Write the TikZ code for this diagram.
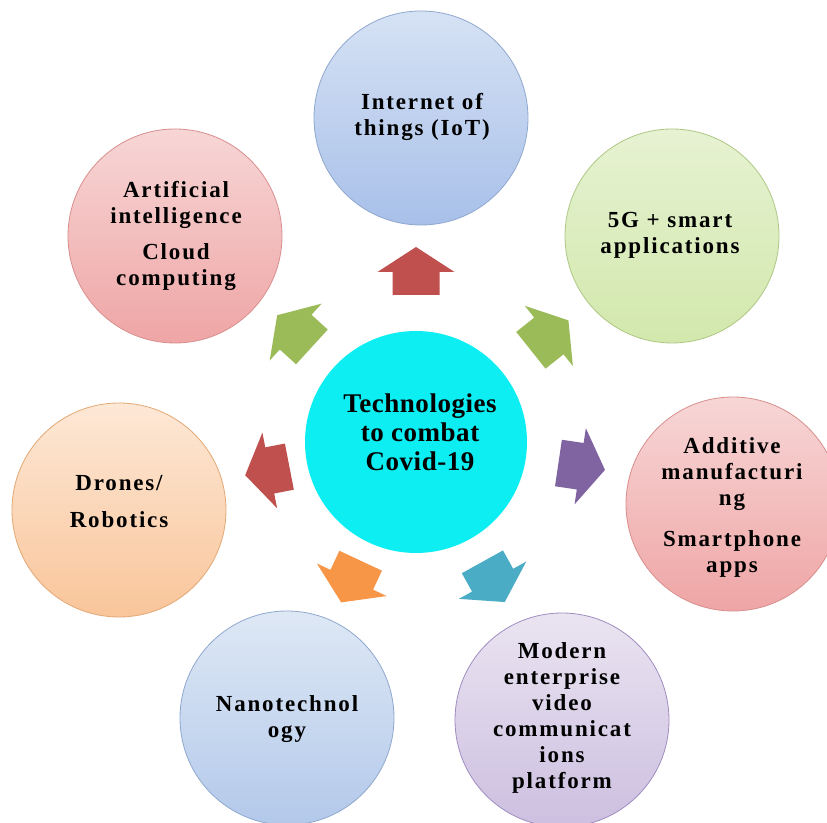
\documentclass[tikz,border=0pt]{standalone}
\usepackage{fontspec}
\setmainfont{Liberation Serif}
\newfontfamily\outerfam[LetterSpace=8,Ligatures=CommonOff]{Liberation Serif}
\newfontfamily\centerfam[LetterSpace=2,Ligatures=CommonOff]{Liberation Serif}
\definecolor{arred}{HTML}{C0504D}
\definecolor{argreen}{HTML}{9BBB59}
\definecolor{arpurple}{HTML}{8064A2}
\definecolor{arteal}{HTML}{4BACC6}
\definecolor{arorange}{HTML}{F79646}
\definecolor{hubcyan}{HTML}{0CEEF2}
\definecolor{blueT}{HTML}{D6E2F4}\definecolor{blueB}{HTML}{A8C0E9}\definecolor{blueD}{HTML}{8FA8CF}
\definecolor{greenT}{HTML}{E6F2D2}\definecolor{greenB}{HTML}{D2E8AC}\definecolor{greenD}{HTML}{AFC784}
\definecolor{pinkT}{HTML}{F7D6D6}\definecolor{pinkB}{HTML}{EFA5A5}\definecolor{pinkD}{HTML}{D98E8E}
\definecolor{lavT}{HTML}{EAE4F1}\definecolor{lavB}{HTML}{CCBFE0}\definecolor{lavD}{HTML}{A08DC0}
\definecolor{nanoT}{HTML}{DEE8F5}\definecolor{nanoB}{HTML}{B3C9EA}\definecolor{nanoD}{HTML}{8FA8CF}
\definecolor{peachT}{HTML}{FDE8D6}\definecolor{peachB}{HTML}{F9C59A}\definecolor{peachD}{HTML}{E3A874}
\tikzset{
  bub/.style n args={3}{circle, minimum size=214pt, inner sep=0pt, top color=#1, bottom color=#2, draw=#3, line width=0.8pt},
  hub/.style={circle, minimum size=222pt, inner sep=0pt, fill=hubcyan},
  outtxt/.style={align=center, inner sep=0pt, font=\outerfam\bfseries\fontsize{23}{26}\selectfont},
  hubtxt/.style={align=center, inner sep=0pt, font=\centerfam\bfseries\fontsize{27}{29}\selectfont},
}
\newcommand{\blockarr}[4]{% angle, tip distance, length, colour
  \begin{scope}[shift={(hubc.center)}, rotate=#1]
    \fill[#4] (#2-#3,-23.5) -- (#2-25,-23.5) -- (#2-25,-38.5) -- (#2,0) -- (#2-25,38.5) -- (#2-25,23.5) -- (#2-#3,23.5) -- cycle;
  \end{scope}}
\begin{document}
\begin{tikzpicture}[x=1pt,y=1pt]
\useasboundingbox (0,0) rectangle (827,822);
\clip (0,0) rectangle (827,822);
\fill[white] (0,0) rectangle (827,822);

\node[hub] (hubc) at (416,380) {};
\node[hubtxt] (thub) at (420,390) {Technologies\\to combat\\Covid-19};

\node[bub={blueT}{blueB}{blueD}] (iot) at (421,704) {};
\node[bub={greenT}{greenB}{greenD}] (fiveg) at (672,586) {};
\node[bub={pinkT}{pinkB}{pinkD}] (addm) at (733,318) {};
\node[bub={lavT}{lavB}{lavD}] (modv) at (562,102) {};
\node[bub={nanoT}{nanoB}{nanoD}] (nano) at (287,104) {};
\node[bub={peachT}{peachB}{peachD}] (drone) at (119,312) {};
\node[bub={pinkT}{pinkB}{pinkD}] (aicc) at (175,586) {};

\node[outtxt] (tiot) at (422,705) {Internet of\\things (IoT)};
\node[outtxt] (tfiveg) at (670,587) {5G + smart\\applications};
\node[outtxt] (taddm) at (732,315) {Additive\\manufacturi\\ng\\[15pt]Smartphone\\apps};
\node[outtxt] (tmodv) at (562,104) {Modern\\enterprise\\video\\communicat\\ions\\platform};
\node[outtxt] (tnano) at (287,103) {Nanotechnol\\ogy};
\node[outtxt] (tdrone) at (119,320) {Drones/\\[11pt]Robotics};
\node[outtxt] (taicc) at (176,586) {Artificial\\intelligence\\[10pt]Cloud\\computing};

\blockarr{90}{195}{48}{arred}
\blockarr{38.6}{195}{48}{argreen}
\blockarr{-8.4}{191}{47}{arpurple}
\blockarr{-61}{183}{46}{arteal}
\blockarr{-115}{177}{46}{arorange}
\blockarr{191}{174}{45}{arred}
\blockarr{137.6}{188}{47}{argreen}
\end{tikzpicture}
\end{document}
